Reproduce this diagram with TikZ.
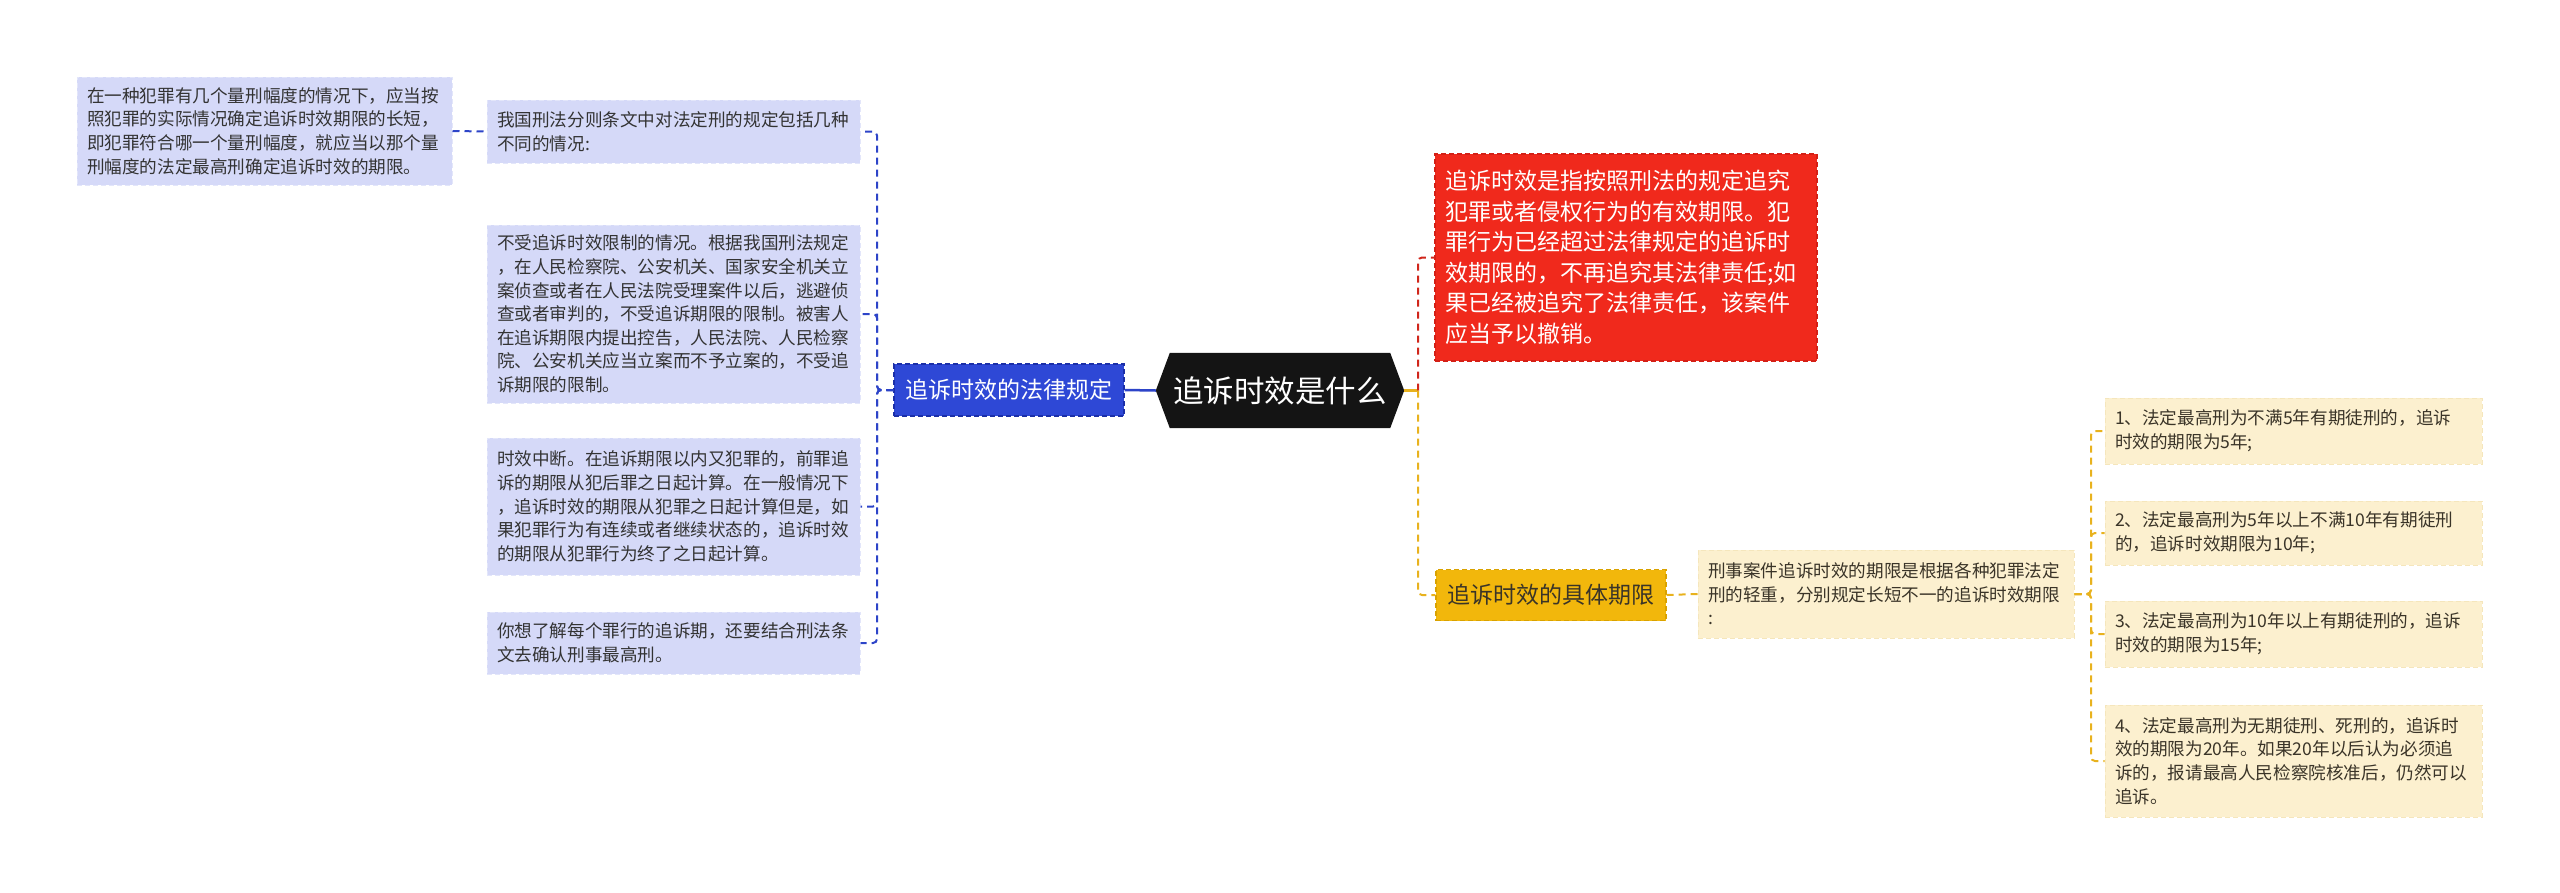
\documentclass[tikz,border=0pt]{standalone}
\usepackage{fontspec}
\setmainfont{Noto Sans CJK SC}
\usetikzlibrary{backgrounds}
\definecolor{lavF}{HTML}{D5D9F8}
\definecolor{lavB}{HTML}{E3E6FA}
\definecolor{blueF}{HTML}{2E48D6}
\definecolor{blueB}{HTML}{1B2FA8}
\definecolor{blueL}{HTML}{2D44C8}
\definecolor{redF}{HTML}{F0291C}
\definecolor{redB}{HTML}{D42016}
\definecolor{redL}{HTML}{D0261B}
\definecolor{orF}{HTML}{F2B70C}
\definecolor{orB}{HTML}{D9A200}
\definecolor{orL}{HTML}{E8B21E}
\definecolor{begF}{HTML}{FCF0CF}
\definecolor{begB}{HTML}{F5E6BC}
\definecolor{txtD}{HTML}{333333}
\definecolor{txtB}{HTML}{3A3428}
\definecolor{rootF}{HTML}{141414}
\begin{document}
\begin{tikzpicture}[x=1pt,y=-1pt,
  smallfont/.style={font=\fontsize{17.6pt}{23.6pt}\selectfont},
  lav/.style={smallfont, draw=lavB, fill=lavF, dash pattern=on 5pt off 3pt, line width=1pt, text=txtD, inner xsep=10pt, inner ysep=5pt, text width=353pt, align=left},
  beg/.style={smallfont, draw=begB, fill=begF, dash pattern=on 5pt off 3pt, line width=1pt, text=txtB, inner xsep=10pt, inner ysep=5pt, text width=356pt, align=left},
  redbox/.style={font=\fontsize{23pt}{30.5pt}\selectfont, draw=redB, fill=redF, dash pattern=on 5pt off 3pt, line width=1.2pt, text=white, inner xsep=10pt, inner ysep=5pt, text width=362pt, align=left},
  bluebox/.style={font=\fontsize{23pt}{28pt}\selectfont, draw=blueB, fill=blueF, dash pattern=on 5pt off 3pt, line width=1.2pt, text=white, minimum width=230pt, minimum height=52pt, inner sep=0pt},
  orbox/.style={font=\fontsize{23pt}{28pt}\selectfont, draw=orB, fill=orF, dash pattern=on 5pt off 3pt, line width=1.2pt, text=txtB, minimum width=230pt, minimum height=51pt, inner sep=0pt},
  rootbox/.style={font=\fontsize{30.5pt}{36pt}\selectfont, text=white, minimum width=220pt, minimum height=75pt, inner sep=0pt},
  conn/.style={line width=2pt, dash pattern=on 7pt off 5pt, rounded corners=4pt},
  solidconn/.style={line width=2.5pt},
  bl/.style={conn, draw=blueL},
  rl/.style={conn, draw=redL},
  ol/.style={conn, draw=orL}
]
\useasboundingbox (0,0) rectangle (2560,892);

% left side
\node[lav, text width=355pt, minimum height=108pt] (L0) at (264.5,131) {在一种犯罪有几个量刑幅度的情况下，应当按\\照犯罪的实际情况确定追诉时效期限的长短，\\即犯罪符合哪一个量刑幅度，就应当以那个量\\刑幅度的法定最高刑确定追诉时效的期限。};
\node[lav, minimum height=63pt] (L1) at (673.5,131.5) {我国刑法分则条文中对法定刑的规定包括几种\\不同的情况:};
\node[lav, minimum height=178pt] (L2) at (673.5,314) {不受追诉时效限制的情况。根据我国刑法规定\\，在人民检察院、公安机关、国家安全机关立\\案侦查或者在人民法院受理案件以后，逃避侦\\查或者审判的，不受追诉期限的限制。被害人\\在追诉期限内提出控告，人民法院、人民检察\\院、公安机关应当立案而不予立案的，不受追\\诉期限的限制。};
\node[lav, minimum height=137pt] (L3) at (673.5,506.5) {时效中断。在追诉期限以内又犯罪的，前罪追\\诉的期限从犯后罪之日起计算。在一般情况下\\，追诉时效的期限从犯罪之日起计算但是，如\\果犯罪行为有连续或者继续状态的，追诉时效\\的期限从犯罪行为终了之日起计算。};
\node[lav, minimum height=62pt] (L4) at (673.5,643) {你想了解每个罪行的追诉期，还要结合刑法条\\文去确认刑事最高刑。};

\node[bluebox] (B) at (1009,390) {追诉时效的法律规定};

% root
\node[rootbox] (R) at (1280,390.5) {追诉时效是什么};
\coordinate (RL) at ([xshift=-14pt]R.west);
\coordinate (RR) at ([xshift=14pt]R.east);
\begin{scope}[on background layer]
\fill[rootF] (R.north west) -- (R.north east) -- (RR) -- (R.south east) -- (R.south west) -- (RL) -- cycle;
\end{scope}

% right side
\node[redbox, minimum height=207pt] (D) at (1626,257.5) {追诉时效是指按照刑法的规定追究\\犯罪或者侵权行为的有效期限。犯\\罪行为已经超过法律规定的追诉时\\效期限的，不再追究其法律责任;如\\果已经被追究了法律责任，该案件\\应当予以撤销。};
\node[orbox] (O) at (1551,595) {追诉时效的具体期限};
\node[beg, text width=356pt, minimum height=88pt] (M) at (1886,594) {刑事案件追诉时效的期限是根据各种犯罪法定\\刑的轻重，分别规定长短不一的追诉时效期限\\:};
\node[beg, text width=357pt, minimum height=66pt] (R1) at (2293.5,431) {1、法定最高刑为不满5年有期徒刑的，追诉\\时效的期限为5年;};
\node[beg, text width=357pt, minimum height=64pt] (R2) at (2293.5,533) {2、法定最高刑为5年以上不满10年有期徒刑\\的，追诉时效期限为10年;};
\node[beg, text width=357pt, minimum height=66pt] (R3) at (2293.5,634) {3、法定最高刑为10年以上有期徒刑的，追诉\\时效的期限为15年;};
\node[beg, text width=357pt, minimum height=112pt] (R4) at (2293.5,761) {4、法定最高刑为无期徒刑、死刑的，追诉时\\效的期限为20年。如果20年以后认为必须追\\诉的，报请最高人民检察院核准后，仍然可以\\追诉。};

% connectors
\coordinate (bj) at (877,390);
\draw[bl] (L0.east) -- (L1.west);
\draw[bl] (B.west) -- (bj) |- (L1.east);
\draw[bl] (B.west) -- (bj) |- (L2.east);
\draw[bl] (B.west) -- (bj) |- (L3.east);
\draw[bl] (B.west) -- (bj) |- (L4.east);
\draw[solidconn, draw=blueL] (B.east) -- (RL);

\coordinate (rj) at (1418,390.5);
\draw[solidconn, draw=orL] (RR) -- (rj);
\draw[rl] (rj) |- (D.west);
\draw[ol] (rj) |- (O.west);
\draw[ol] (O.east) -- (M.west);

\coordinate (mj) at (2091,594);
\draw[ol] (M.east) -- (mj) |- (R1.west);
\draw[ol] (M.east) -- (mj) |- (R2.west);
\draw[ol] (M.east) -- (mj) |- (R3.west);
\draw[ol] (M.east) -- (mj) |- (R4.west);
\end{tikzpicture}
\end{document}
